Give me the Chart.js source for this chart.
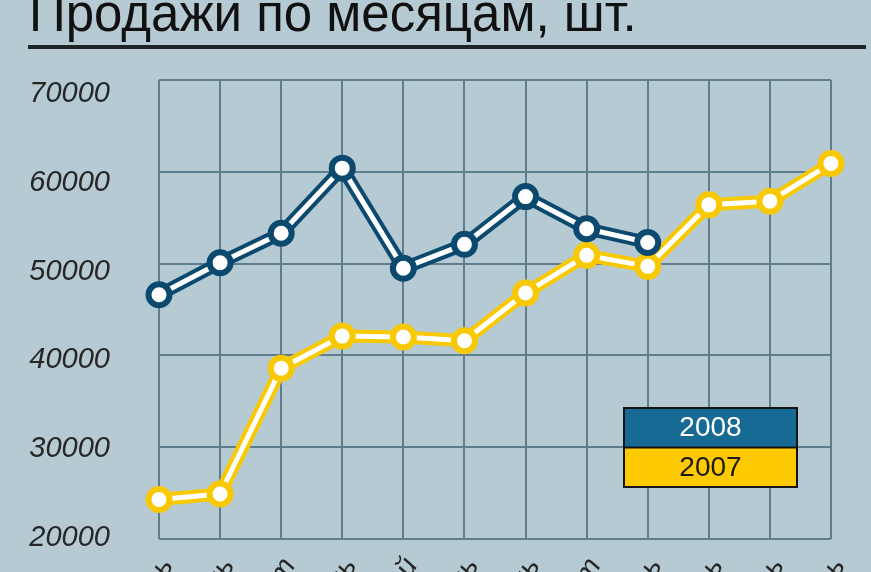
<!DOCTYPE html>
<html><head><meta charset="utf-8">
<script src="https://cdn.jsdelivr.net/npm/chart.js@4.4.1/dist/chart.umd.min.js"></script>
<style>
html,body{margin:0;padding:0;background:#b6cad4;overflow:hidden;}
#wrap{position:relative;width:871px;height:572px;overflow:hidden;background:#b6cad4;}
#title{position:absolute;left:29px;top:-12px;font-family:"Liberation Sans Narrow","Liberation Sans",sans-serif;font-size:51px;line-height:51px;color:#111;white-space:nowrap;}
#rule{position:absolute;left:28px;top:45px;width:838px;height:4px;background:#1f2428;}
#cw{position:absolute;left:0;top:0;width:871px;height:700px;}
</style></head><body>
<div id="wrap">
<div id="title">Продажи по месяцам, шт.</div>
<div id="rule"></div>
<div id="cw"><canvas id="c" width="871" height="700"></canvas></div>
</div>
<script>
const months = ['Январь','Февраль','Март','Апрель','Май','Июнь','Июль','Август','Сентябрь','Октябрь','Ноябрь','Декабрь'];
const sales2008 = [46600, 50100, 53300, 60400, 49500, 52100, 57300, 53800, 52300, null, null, null];
const sales2007 = [24300, 24900, 38600, 42100, 42000, 41600, 46800, 50900, 49700, 56400, 56800, 60900];
const yTicks = [20000, 30000, 40000, 50000, 60000, 70000];
const seriesLabels = ['2008', '2007'];

const BLUE = '#0b4a6e', YELLOW = '#f8c800', WHITE = '#ffffff', GRID = '#5f7e8d', TXT = '#262626';
const CANVAS_H = 700, PLOT_BOTTOM = 539;
const tickFont = {family: '"Liberation Sans", Arial, sans-serif', style: 'italic', size: 29};

const legendBox = {
  id: 'legendBox',
  afterDatasetsDraw(chart, args, o) {
    const ctx = chart.ctx;
    const items = [
      {label: seriesLabels[0], bg: '#176a93', fg: '#ffffff'},
      {label: seriesLabels[1], bg: '#fdca00', fg: '#1a1a1a'}
    ];
    const hh = o.h / items.length;
    ctx.save();
    items.forEach((it, i) => {
      ctx.fillStyle = it.bg;
      ctx.fillRect(o.x, o.y + i * hh, o.w, hh);
      ctx.fillStyle = it.fg;
      ctx.font = '28px "Liberation Sans", Arial, sans-serif';
      ctx.textAlign = 'center';
      ctx.textBaseline = 'middle';
      ctx.fillText(it.label, o.x + o.w / 2, o.y + i * hh + hh / 2 + 1);
    });
    ctx.strokeStyle = '#141414';
    ctx.lineWidth = 2;
    ctx.strokeRect(o.x, o.y, o.w, o.h);
    ctx.beginPath();
    ctx.moveTo(o.x, o.y + hh);
    ctx.lineTo(o.x + o.w, o.y + hh);
    ctx.stroke();
    ctx.restore();
  }
};

function inner(label, data, color, order) {
  return {label, data, borderColor: WHITE, borderWidth: 5, pointRadius: 10.5, pointBorderWidth: 6,
    pointBackgroundColor: WHITE, pointBorderColor: color, order, clip: false,
    borderJoinStyle: 'round', borderCapStyle: 'round', tension: 0, spanGaps: false};
}
function outer(label, data, color, order) {
  return {label, data, borderColor: color, borderWidth: 13, pointRadius: 0, order, clip: false,
    borderJoinStyle: 'round', borderCapStyle: 'round', tension: 0, spanGaps: false};
}

new Chart(document.getElementById('c'), {
  type: 'line',
  data: {
    labels: months,
    datasets: [
      inner(seriesLabels[0], sales2008, BLUE, 1),
      outer(seriesLabels[0] + ' контур', sales2008, BLUE, 2),
      inner(seriesLabels[1], sales2007, YELLOW, 3),
      outer(seriesLabels[1] + ' контур', sales2007, YELLOW, 4)
    ]
  },
  options: {
    responsive: false,
    animation: false,
    events: [],
    layout: {padding: {top: 80, right: 40, left: 0, bottom: 0}},
    plugins: {
      legend: {display: false},
      tooltip: {enabled: false},
      title: {display: false},
      legendBox: {x: 624, y: 408, w: 173, h: 79}
    },
    scales: {
      x: {
        type: 'category', offset: false,
        grid: {color: GRID, lineWidth: 2, drawTicks: false},
        border: {display: false},
        ticks: {autoSkip: false, minRotation: 60, maxRotation: 60, font: tickFont, color: TXT, padding: 13, labelOffset: 8},
        afterFit: s => { s.height = CANVAS_H - PLOT_BOTTOM; s.paddingRight = 0; s.paddingLeft = 0; }
      },
      y: {
        position: 'left', min: 20000, max: 70000,
        ticks: {display: false, stepSize: 10000},
        grid: {color: GRID, lineWidth: 2, drawTicks: false},
        border: {display: false},
        afterFit: s => { s.width = 0; }
      },
      yl: {
        position: 'left', min: 19853, max: 71578,
        grid: {display: false, drawTicks: false},
        border: {display: false},
        ticks: {font: tickFont, color: TXT, padding: 49, callback: v => String(v)},
        afterBuildTicks: s => { s.ticks = yTicks.map(v => ({value: v})); },
        afterFit: s => { s.width = 159; }
      }
    }
  },
  plugins: [legendBox]
});
</script>
</body></html>
